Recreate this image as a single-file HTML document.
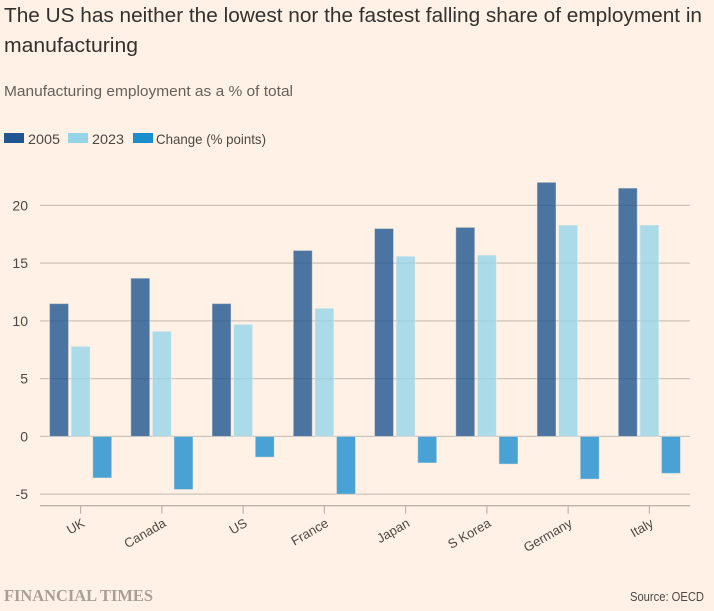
<!DOCTYPE html>
<html lang="en">
<head>
<meta charset="utf-8">
<title>Manufacturing employment chart</title>
<style>
html,body{margin:0;padding:0;background:#fff1e5;}
body{width:714px;height:611px;overflow:hidden;position:relative;}
svg{display:block;position:absolute;left:0;top:0;font-family:"Liberation Sans",sans-serif;}
</style>
</head>
<body>
<svg id="chart" width="714" height="611" viewBox="0 0 714 611">
  <rect x="0" y="0" width="714" height="611" fill="#fff1e5"></rect>
  <text x="4" y="22" font-size="20" fill="#33302e" textLength="698" lengthAdjust="spacingAndGlyphs">The US has neither the lowest nor the fastest falling share of employment in</text>
  <text x="4" y="52" font-size="20" fill="#33302e" textLength="134" lengthAdjust="spacingAndGlyphs">manufacturing</text>
  <text x="4" y="96" font-size="15" fill="#66605c" textLength="289" lengthAdjust="spacingAndGlyphs">Manufacturing employment as a % of total</text>

  <g>
    <rect x="4" y="133" width="20" height="10" fill="#1f5590"></rect>
    <text x="28" y="144" font-size="14" fill="#4d4845" textLength="32" lengthAdjust="spacingAndGlyphs">2005</text>
    <rect x="68" y="133" width="20" height="10" fill="#96d4e8"></rect>
    <text x="92" y="144" font-size="14" fill="#4d4845" textLength="32" lengthAdjust="spacingAndGlyphs">2023</text>
    <rect x="133" y="133" width="20" height="10" fill="#1b8fce"></rect>
    <text x="156" y="144" font-size="14" fill="#4d4845" textLength="110" lengthAdjust="spacingAndGlyphs">Change (% points)</text>
  </g>

  <g id="grid"></g>
  <g id="yLabels"></g>
  <g id="bars"></g>
  <g id="xAxis"></g>

  <text x="4" y="601" font-family="'Liberation Serif',serif" font-size="16.5" font-weight="bold" fill="#a89f96" textLength="149" lengthAdjust="spacingAndGlyphs">FINANCIAL TIMES</text>
  <text x="630" y="601" font-size="12.5" fill="#4d4845" textLength="74" lengthAdjust="spacingAndGlyphs">Source: OECD</text>
</svg>
<script>
const categories = ['UK', 'Canada', 'US', 'France', 'Japan', 'S Korea', 'Germany', 'Italy'];
const values2005 = [11.5, 13.7, 11.5, 16.1, 18, 18.1, 22, 21.5];
const values2023 = [7.8, 9.1, 9.7, 11.1, 15.6, 15.7, 18.3, 18.3];
const valuesChange = [-3.6, -4.6, -1.8, -5, -2.3, -2.4, -3.7, -3.2];
const yTicks = [-5, 0, 5, 10, 15, 20];

const NS = 'http://www.w3.org/2000/svg';
const plotLeft = 40;
const plotRight = 690;
const zeroY = 436.4;
const pxPerUnit = 11.55;
const axisY = 505.7;
const bandWidth = (plotRight - plotLeft) / categories.length;
const barWidth = 19;
const barStep = 21.6;

function yScale(v) { return zeroY - v * pxPerUnit; }
function xCenter(i) { return plotLeft + bandWidth * (i + 0.5); }
function make(tag, attrs, parent) {
  const el = document.createElementNS(NS, tag);
  for (const k in attrs) el.setAttribute(k, attrs[k]);
  parent.appendChild(el);
  return el;
}

const grid = document.getElementById('grid');
const yLabels = document.getElementById('yLabels');
yTicks.forEach(function (t) {
  const line = make('line', { x1: plotLeft, x2: plotRight, y1: yScale(t), y2: yScale(t), stroke: '#cfc4ba', 'stroke-width': 1.2 }, grid);
  
  
  const label = make('text', { x: 28, y: yScale(t) + 5, 'text-anchor': 'end', 'font-size': 14, fill: '#4d4845' }, yLabels);
  label.textContent = String(t);
  
  
});

const bars = document.getElementById('bars');
function drawSeries(values, offset, color, name) {
  values.forEach(function (v, i) {
    const x = xCenter(i) + offset - barWidth / 2;
    const top = Math.min(yScale(v), yScale(0));
    const h = Math.abs(yScale(v) - yScale(0));
    const r = make('rect', { x: x, y: top, width: barWidth, height: h, fill: color, 'fill-opacity': 0.8, stroke: '#fff1e5', 'stroke-opacity': 0.45, 'stroke-width': 1 }, bars);
    
    
  });
}
drawSeries(values2005, -barStep, '#1f5590', 'bar-2005');
drawSeries(values2023, 0, '#96d4e8', 'bar-2023');
drawSeries(valuesChange, barStep, '#1b8fce', 'bar-change');

const xAxis = document.getElementById('xAxis');
const axisLine = make('line', { x1: plotLeft, x2: plotRight, y1: axisY, y2: axisY, stroke: '#bdb3a9', 'stroke-width': 1.4 }, xAxis);


categories.forEach(function (c, i) {
  const cx = xCenter(i);
  const tick = make('line', { x1: cx, x2: cx, y1: axisY, y2: axisY + 8, stroke: '#bdb3a9', 'stroke-width': 1.2 }, xAxis);
  
  
  const lx = cx + 5;
  const ly = axisY + 20;
  const label = make('text', { x: lx, y: ly, 'text-anchor': 'end', 'font-size': 13, fill: '#4d4845', transform: 'rotate(-30 ' + lx + ' ' + ly + ')' }, xAxis);
  label.textContent = c;
  
  
});
</script>
</body>
</html>
